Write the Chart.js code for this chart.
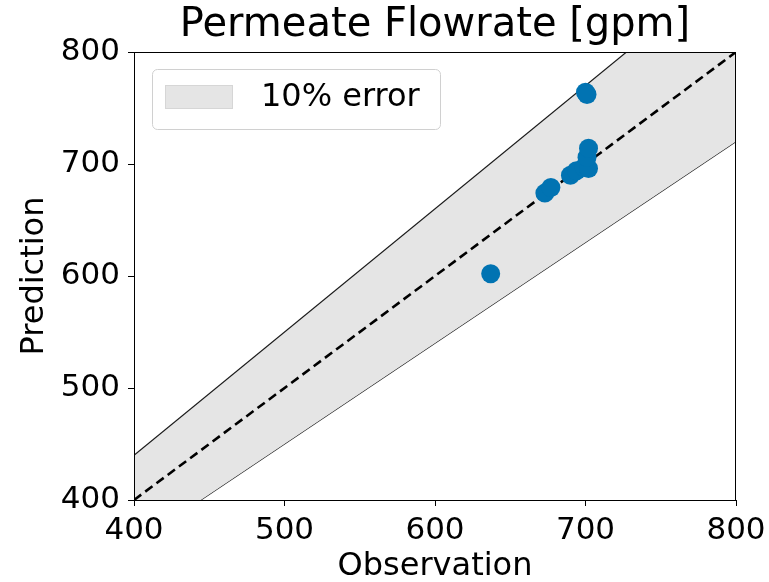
<!DOCTYPE html>
<html lang="en">
<head>
    <meta charset="UTF-8">
    <title>Permeate Flowrate</title>
    <style>
        html, body { margin: 0; padding: 0; background: #fff; }
        #wrap { width: 769px; height: 582px; }
    </style>
</head>
<body>

    <div id="wrap">
        <canvas id="myChart" width="769" height="582"></canvas>
    </div>

    <script src="https://cdn.jsdelivr.net/npm/chart.js@4.4.1/dist/chart.umd.min.js"></script>

    <script>
        // observed vs predicted permeate flowrate [gpm]
        var observation = [637, 673, 677, 690, 694, 699, 702, 701, 702, 700, 701];
        var prediction  = [602, 674, 679, 690, 694, 697, 696, 706, 714, 764, 762];

        // reference lines: y = x and the +/-10% band
        var lineX     = [400, 800];
        var idealY    = [400, 800];
        var upperBand = [440, 880];
        var lowerBand = [360, 720];

        var axisMin = 400;
        var axisMax = 800;
        var axisStep = 100;

        var FONT = 'DejaVu Sans';

        function toPoints(xs, ys) {
            var pts = [];
            for (var i = 0; i < xs.length; i++) {
                pts.push({ x: xs[i], y: ys[i] });
            }
            return pts;
        }

        // matplotlib-style full box around the axes
        var frame = {
            id: 'frame',
            afterDatasetsDraw: function (chart) {
                var a = chart.chartArea;
                var ctx = chart.ctx;
                ctx.save();
                ctx.strokeStyle = '#000';
                ctx.lineWidth = 1;
                ctx.strokeRect(a.left + 0.5, a.top + 0.5, a.right - a.left - 1, a.bottom - a.top);
                ctx.restore();
            }
        };

        // legend box drawn inside the axes, upper left
        var boxLegend = {
            id: 'boxLegend',
            afterDraw: function (chart) {
                var a = chart.chartArea;
                var ctx = chart.ctx;
                var ds = chart.data.datasets[2];
                var x = a.left + 18, y = a.top + 17, w = 288, h = 60, r = 5;
                ctx.save();
                ctx.beginPath();
                ctx.roundRect(x + 0.5, y + 0.5, w, h, r);
                ctx.fillStyle = 'rgba(255,255,255,0.8)';
                ctx.fill();
                ctx.strokeStyle = '#d0d0d0';
                ctx.lineWidth = 1;
                ctx.stroke();

                ctx.fillStyle = ds.backgroundColor;
                ctx.fillRect(x + 13, y + 16, 68, 24);
                ctx.strokeStyle = '#d6d6d6';
                ctx.strokeRect(x + 13.5, y + 16.5, 67, 23);

                ctx.fillStyle = '#000';
                ctx.font = '32px "' + FONT + '"';
                ctx.textBaseline = 'middle';
                ctx.fillText(ds.label, x + 109, y + 29);
                ctx.restore();
            }
        };

        function axisOptions(titleText, isX) {
            return {
                type: 'linear',
                min: axisMin,
                max: axisMax,
                grid: {
                    display: true,
                    drawOnChartArea: false,
                    drawTicks: true,
                    tickLength: 6,
                    tickColor: '#000',
                    tickWidth: 1
                },
                border: { display: true, color: '#000', width: 1 },
                ticks: {
                    stepSize: axisStep,
                    color: '#000',
                    padding: isX ? 6 : 8,
                    font: { family: FONT, size: 31 }
                },
                title: {
                    display: true,
                    text: titleText,
                    color: '#000',
                    font: { family: FONT, size: 32 },
                    padding: isX ? { top: 0, bottom: -4 } : { top: 15, bottom: 0 }
                },
                afterFit: function (scale) {
                    // fixed axes box, like the matplotlib figure
                    if (isX) {
                        scale.height = 82;
                        scale.paddingLeft = 0;
                        scale.paddingRight = 0;
                    } else {
                        scale.width = 134;
                        scale.paddingTop = 0;
                        scale.paddingBottom = 0;
                    }
                }
            };
        }

        var ctx = document.getElementById('myChart').getContext('2d');
        var myChart = new Chart(ctx, {
            type: 'scatter',
            data: {
                datasets: [
                    {
                        type: 'scatter',
                        label: 'data',
                        data: toPoints(observation, prediction),
                        backgroundColor: '#0173b2',
                        borderWidth: 0,
                        pointRadius: 9.5,
                        order: 0
                    },
                    {
                        type: 'line',
                        label: 'ideal',
                        data: toPoints(lineX, idealY),
                        borderColor: '#000',
                        borderWidth: 2.6,
                        borderDash: [9, 5],
                        pointRadius: 0,
                        fill: false,
                        order: 1
                    },
                    {
                        type: 'line',
                        label: '10% error',
                        data: toPoints(lineX, upperBand),
                        borderColor: '#1a1a1a',
                        borderWidth: 1.2,
                        backgroundColor: 'rgb(229,229,229)',
                        pointRadius: 0,
                        fill: '+1',
                        order: 2
                    },
                    {
                        type: 'line',
                        label: 'lower',
                        data: toPoints(lineX, lowerBand),
                        borderColor: '#1a1a1a',
                        borderWidth: 1.2,
                        pointRadius: 0,
                        fill: false,
                        order: 3
                    }
                ]
            },
            options: {
                responsive: false,
                animation: false,
                events: [],
                layout: { padding: { top: 0, right: 33, bottom: 0, left: 0 } },
                plugins: {
                    legend: { display: false },
                    tooltip: { enabled: false },
                    title: {
                        display: true,
                        text: 'Permeate Flowrate [gpm]',
                        color: '#000',
                        fullSize: false,
                        font: { family: FONT, size: 40, weight: 'normal' },
                        padding: { top: 2, bottom: 2 }
                    }
                },
                scales: {
                    x: axisOptions('Observation', true),
                    y: axisOptions('Prediction', false)
                }
            },
            plugins: [frame, boxLegend]
        });
    </script>

</body>
</html>
